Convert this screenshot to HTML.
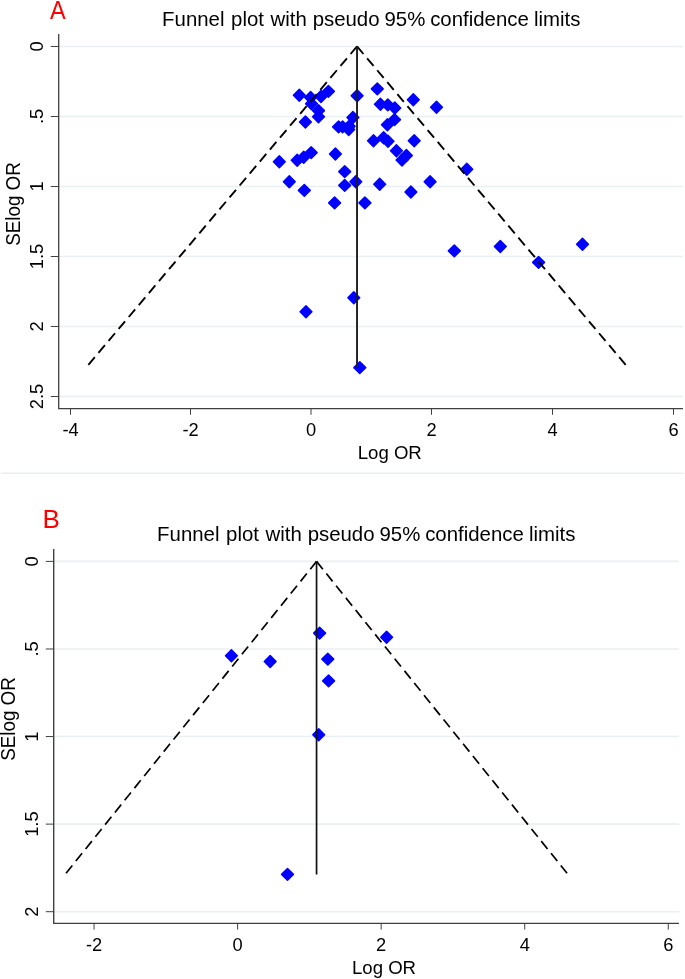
<!DOCTYPE html>
<html><head><meta charset="utf-8"><style>
html,body{margin:0;padding:0;background:#fff;}
body{width:685px;height:979px;overflow:hidden;}
svg{display:block;}
svg{will-change:transform;}
</style></head><body>
<svg width="685" height="979" viewBox="0 0 685 979">
<rect width="685" height="979" fill="#fff"/>
<line x1="1" y1="473.3" x2="684" y2="473.3" stroke="#e8f0f1" stroke-width="1.6"/>
<g stroke="#e8f0f1" stroke-width="1.6">
<line x1="58.7" y1="46.50" x2="683" y2="46.50"/>
<line x1="58.7" y1="116.50" x2="683" y2="116.50"/>
<line x1="58.7" y1="186.50" x2="683" y2="186.50"/>
<line x1="58.7" y1="256.50" x2="683" y2="256.50"/>
<line x1="58.7" y1="326.50" x2="683" y2="326.50"/>
<line x1="58.7" y1="396.50" x2="683" y2="396.50"/>
</g>
<g fill="#0000ff" stroke="#0000ff" stroke-width="1.5" stroke-linejoin="round">
<path d="M299.30 89.40L305.20 95.30L299.30 101.20L293.40 95.30Z"/>
<path d="M310.60 91.60L316.50 97.50L310.60 103.40L304.70 97.50Z"/>
<path d="M321.00 90.60L326.90 96.50L321.00 102.40L315.10 96.50Z"/>
<path d="M328.40 85.50L334.30 91.40L328.40 97.30L322.50 91.40Z"/>
<path d="M311.50 97.90L317.40 103.80L311.50 109.70L305.60 103.80Z"/>
<path d="M318.50 104.70L324.40 110.60L318.50 116.50L312.60 110.60Z"/>
<path d="M318.50 110.90L324.40 116.80L318.50 122.70L312.60 116.80Z"/>
<path d="M305.40 116.10L311.30 122.00L305.40 127.90L299.50 122.00Z"/>
<path d="M357.10 89.90L363.00 95.80L357.10 101.70L351.20 95.80Z"/>
<path d="M352.90 111.60L358.80 117.50L352.90 123.40L347.00 117.50Z"/>
<path d="M338.60 121.00L344.50 126.90L338.60 132.80L332.70 126.90Z"/>
<path d="M342.60 121.00L348.50 126.90L342.60 132.80L336.70 126.90Z"/>
<path d="M349.20 120.30L355.10 126.20L349.20 132.10L343.30 126.20Z"/>
<path d="M348.70 123.60L354.60 129.50L348.70 135.40L342.80 129.50Z"/>
<path d="M377.30 83.00L383.20 88.90L377.30 94.80L371.40 88.90Z"/>
<path d="M380.40 98.30L386.30 104.20L380.40 110.10L374.50 104.20Z"/>
<path d="M387.80 99.00L393.70 104.90L387.80 110.80L381.90 104.90Z"/>
<path d="M394.80 102.10L400.70 108.00L394.80 113.90L388.90 108.00Z"/>
<path d="M394.50 113.70L400.40 119.60L394.50 125.50L388.60 119.60Z"/>
<path d="M387.40 118.90L393.30 124.80L387.40 130.70L381.50 124.80Z"/>
<path d="M413.30 93.90L419.20 99.80L413.30 105.70L407.40 99.80Z"/>
<path d="M436.50 101.40L442.40 107.30L436.50 113.20L430.60 107.30Z"/>
<path d="M373.50 134.90L379.40 140.80L373.50 146.70L367.60 140.80Z"/>
<path d="M383.60 131.90L389.50 137.80L383.60 143.70L377.70 137.80Z"/>
<path d="M388.00 135.40L393.90 141.30L388.00 147.20L382.10 141.30Z"/>
<path d="M414.20 134.90L420.10 140.80L414.20 146.70L408.30 140.80Z"/>
<path d="M396.40 144.80L402.30 150.70L396.40 156.60L390.50 150.70Z"/>
<path d="M406.40 149.60L412.30 155.50L406.40 161.40L400.50 155.50Z"/>
<path d="M402.00 154.10L407.90 160.00L402.00 165.90L396.10 160.00Z"/>
<path d="M466.80 163.40L472.70 169.30L466.80 175.20L460.90 169.30Z"/>
<path d="M279.30 155.90L285.20 161.80L279.30 167.70L273.40 161.80Z"/>
<path d="M297.20 154.30L303.10 160.20L297.20 166.10L291.30 160.20Z"/>
<path d="M303.70 151.40L309.60 157.30L303.70 163.20L297.80 157.30Z"/>
<path d="M311.20 146.70L317.10 152.60L311.20 158.50L305.30 152.60Z"/>
<path d="M335.40 148.10L341.30 154.00L335.40 159.90L329.50 154.00Z"/>
<path d="M344.70 165.70L350.60 171.60L344.70 177.50L338.80 171.60Z"/>
<path d="M289.30 175.90L295.20 181.80L289.30 187.70L283.40 181.80Z"/>
<path d="M304.30 184.50L310.20 190.40L304.30 196.30L298.40 190.40Z"/>
<path d="M344.70 179.50L350.60 185.40L344.70 191.30L338.80 185.40Z"/>
<path d="M355.80 175.80L361.70 181.70L355.80 187.60L349.90 181.70Z"/>
<path d="M379.70 178.40L385.60 184.30L379.70 190.20L373.80 184.30Z"/>
<path d="M410.90 186.10L416.80 192.00L410.90 197.90L405.00 192.00Z"/>
<path d="M430.10 175.90L436.00 181.80L430.10 187.70L424.20 181.80Z"/>
<path d="M334.60 197.00L340.50 202.90L334.60 208.80L328.70 202.90Z"/>
<path d="M364.90 197.00L370.80 202.90L364.90 208.80L359.00 202.90Z"/>
<path d="M454.30 245.00L460.20 250.90L454.30 256.80L448.40 250.90Z"/>
<path d="M500.30 240.60L506.20 246.50L500.30 252.40L494.40 246.50Z"/>
<path d="M538.60 256.50L544.50 262.40L538.60 268.30L532.70 262.40Z"/>
<path d="M582.50 238.30L588.40 244.20L582.50 250.10L576.60 244.20Z"/>
<path d="M353.80 291.90L359.70 297.80L353.80 303.70L347.90 297.80Z"/>
<path d="M306.00 305.90L311.90 311.80L306.00 317.70L300.10 311.80Z"/>
<path d="M359.80 361.70L365.70 367.60L359.80 373.50L353.90 367.60Z"/>
</g>
<g stroke="#000" stroke-width="1.9" fill="none">
<path d="M357.03 46.35L86.02 367.60" stroke-dasharray="10 5.64"/>
<path d="M357.03 46.35L628.03 367.60" stroke-dasharray="10 5.64"/>
<path d="M357.03 46.35L357.03 367.60" stroke="#1c1c1c"/>
</g>
<g stroke="#404040" stroke-width="1.3" fill="none" stroke-linejoin="round">
<path d="M58.7 34L58.7 408.7L683 408.7"/>
</g>
<g stroke="#404040" stroke-width="1.0">
<line x1="50.8" y1="46.50" x2="58.7" y2="46.50"/>
<line x1="50.8" y1="116.50" x2="58.7" y2="116.50"/>
<line x1="50.8" y1="186.50" x2="58.7" y2="186.50"/>
<line x1="50.8" y1="256.50" x2="58.7" y2="256.50"/>
<line x1="50.8" y1="326.50" x2="58.7" y2="326.50"/>
<line x1="50.8" y1="396.50" x2="58.7" y2="396.50"/>
<line x1="70.50" y1="408.7" x2="70.50" y2="414.8"/>
<line x1="190.50" y1="408.7" x2="190.50" y2="414.8"/>
<line x1="311.00" y1="408.7" x2="311.00" y2="414.8"/>
<line x1="431.50" y1="408.7" x2="431.50" y2="414.8"/>
<line x1="552.50" y1="408.7" x2="552.50" y2="414.8"/>
<line x1="673.50" y1="408.7" x2="673.50" y2="414.8"/>
</g>
<g font-family='"Liberation Sans", sans-serif' font-size="18.3" fill="#000" text-anchor="middle">
<text transform="translate(70.50 435.7) scale(1 1.05)">-4</text>
<text transform="translate(190.50 435.7) scale(1 1.05)">-2</text>
<text transform="translate(311.00 435.7) scale(1 1.05)">0</text>
<text transform="translate(431.50 435.7) scale(1 1.05)">2</text>
<text transform="translate(552.50 435.7) scale(1 1.05)">4</text>
<text transform="translate(673.50 435.7) scale(1 1.05)">6</text>
<text transform="translate(43 46.50) rotate(-90) scale(1 1.05)">0</text>
<text transform="translate(43 116.50) rotate(-90) scale(1 1.05)">.5</text>
<text transform="translate(43 186.50) rotate(-90) scale(1 1.05)">1</text>
<text transform="translate(43 256.50) rotate(-90) scale(1 1.05)">1.5</text>
<text transform="translate(43 326.50) rotate(-90) scale(1 1.05)">2</text>
<text transform="translate(43 396.50) rotate(-90) scale(1 1.05)">2.5</text>
<text transform="translate(389.75 458.7) scale(1 1.03)" font-size="18.6">Log OR</text>
<text transform="translate(19.5 204) rotate(-90) scale(1.012 1.065)" font-size="18.6">SElog OR</text>
<text x="162.12" y="25.9" font-size="20.4" text-anchor="start">Funnel</text>
<text x="231.12" y="25.9" font-size="20.4" text-anchor="start">plot</text>
<text x="270.54" y="25.9" font-size="20.4" text-anchor="start">with</text>
<text x="312.65" y="25.9" font-size="20.4" text-anchor="start">pseudo</text>
<text x="384.47" y="25.9" font-size="20.4" text-anchor="start">95%</text>
<text x="430.18" y="25.9" font-size="20.4" text-anchor="start">confidence</text>
<text x="534.01" y="25.9" font-size="20.4" text-anchor="start">limits</text>
</g>
<text transform="translate(50 18.8) scale(0.94 1)" font-family='"Liberation Sans", sans-serif' font-size="25" fill="#ff0000">A</text>
<g stroke="#e8f0f1" stroke-width="1.6">
<line x1="53.7" y1="561.40" x2="679" y2="561.40"/>
<line x1="53.7" y1="648.98" x2="679" y2="648.98"/>
<line x1="53.7" y1="736.55" x2="679" y2="736.55"/>
<line x1="53.7" y1="824.12" x2="679" y2="824.12"/>
<line x1="53.7" y1="911.70" x2="679" y2="911.70"/>
</g>
<g fill="#0000ff" stroke="#0000ff" stroke-width="1.5" stroke-linejoin="round">
<path d="M231.40 649.90L237.30 655.80L231.40 661.70L225.50 655.80Z"/>
<path d="M270.20 655.60L276.10 661.50L270.20 667.40L264.30 661.50Z"/>
<path d="M319.60 627.20L325.50 633.10L319.60 639.00L313.70 633.10Z"/>
<path d="M327.80 653.20L333.70 659.10L327.80 665.00L321.90 659.10Z"/>
<path d="M328.60 675.00L334.50 680.90L328.60 686.80L322.70 680.90Z"/>
<path d="M386.60 631.40L392.50 637.30L386.60 643.20L380.70 637.30Z"/>
<path d="M318.70 728.90L324.60 734.80L318.70 740.70L312.80 734.80Z"/>
<path d="M287.50 868.50L293.40 874.40L287.50 880.30L281.60 874.40Z"/>
</g>
<g stroke="#000" stroke-width="1.7" fill="none">
<path d="M316.56 561.40L65.15 874.39" stroke-dasharray="10 5.6"/>
<path d="M316.56 561.40L567.97 874.39" stroke-dasharray="10 5.6"/>
<path d="M316.56 561.40L316.56 874.39" stroke="#111"/>
</g>
<g stroke="#404040" stroke-width="1.4" fill="none" stroke-linejoin="round">
<path d="M53.7 548.9L53.7 923.4L679 923.4"/>
</g>
<g stroke="#404040" stroke-width="1.0">
<line x1="45.8" y1="561.40" x2="53.7" y2="561.40"/>
<line x1="45.8" y1="648.98" x2="53.7" y2="648.98"/>
<line x1="45.8" y1="736.55" x2="53.7" y2="736.55"/>
<line x1="45.8" y1="824.12" x2="53.7" y2="824.12"/>
<line x1="45.8" y1="911.70" x2="53.7" y2="911.70"/>
<line x1="94.04" y1="923.4" x2="94.04" y2="929.6"/>
<line x1="237.60" y1="923.4" x2="237.60" y2="929.6"/>
<line x1="381.16" y1="923.4" x2="381.16" y2="929.6"/>
<line x1="524.72" y1="923.4" x2="524.72" y2="929.6"/>
<line x1="668.28" y1="923.4" x2="668.28" y2="929.6"/>
</g>
<g font-family='"Liberation Sans", sans-serif' font-size="18.3" fill="#000" text-anchor="middle">
<text transform="translate(94.04 951) scale(1 1.05)">-2</text>
<text transform="translate(237.60 951) scale(1 1.05)">0</text>
<text transform="translate(381.16 951) scale(1 1.05)">2</text>
<text transform="translate(524.72 951) scale(1 1.05)">4</text>
<text transform="translate(668.28 951) scale(1 1.05)">6</text>
<text transform="translate(38 561.40) rotate(-90) scale(1 1.05)">0</text>
<text transform="translate(38 648.98) rotate(-90) scale(1 1.05)">.5</text>
<text transform="translate(38 736.55) rotate(-90) scale(1 1.05)">1</text>
<text transform="translate(38 824.12) rotate(-90) scale(1 1.05)">1.5</text>
<text transform="translate(38 911.70) rotate(-90) scale(1 1.05)">2</text>
<text transform="translate(384 973.8) scale(1 1.03)" font-size="18.6">Log OR</text>
<text transform="translate(15 719) rotate(-90) scale(1.012 1.065)" font-size="18.6">SElog OR</text>
<text x="157.12" y="541.1" font-size="20.4" text-anchor="start">Funnel</text>
<text x="226.12" y="541.1" font-size="20.4" text-anchor="start">plot</text>
<text x="265.54" y="541.1" font-size="20.4" text-anchor="start">with</text>
<text x="307.65" y="541.1" font-size="20.4" text-anchor="start">pseudo</text>
<text x="379.47" y="541.1" font-size="20.4" text-anchor="start">95%</text>
<text x="425.18" y="541.1" font-size="20.4" text-anchor="start">confidence</text>
<text x="529.01" y="541.1" font-size="20.4" text-anchor="start">limits</text>
</g>
<text transform="translate(42.5 528.2) scale(1 1)" font-family='"Liberation Sans", sans-serif' font-size="26" fill="#ff0000">B</text>
</svg>
</body></html>
